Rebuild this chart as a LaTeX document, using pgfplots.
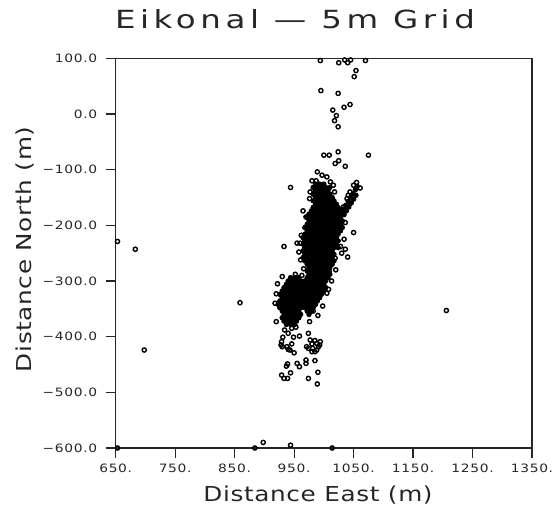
\documentclass[border=0pt]{standalone}
\usepackage{graphicx}
\usepackage{fontspec}
\usepackage{pgfplots}
\pgfplotsset{compat=1.18}
\setmainfont{DejaVu Sans}
\newfontfamily\ticksfont[LetterSpace=5]{DejaVu Sans}
\newfontfamily\labelfont[LetterSpace=2.5]{DejaVu Sans}
\newfontfamily\titlefont[LetterSpace=14]{DejaVu Sans}
\definecolor{ink}{gray}{0.15}

\newcommand{\tl}[1]{\scalebox{1.2}[1]{#1}}

\begin{document}
\begin{tikzpicture}
\useasboundingbox (0,0) rectangle (556pt,508pt);
\begin{axis}[
  at={(115.7pt,60pt)}, anchor=south west,
  scale only axis, width=416.3pt, height=389.7pt,
  xmin=650, xmax=1350, ymin=-600, ymax=100,
  clip=false,
  axis line style={line width=1.2pt, ink},
  tick pos=left, tick align=outside,
  major tick length=10pt,
  every tick/.style={line width=1.2pt, ink},
  minor tick num=0,
  xtick={650,750,...,1350},
  ytick={-600,-500,...,100},
  xticklabels={\tl{650.},\tl{750.},\tl{850.},\tl{950.},\tl{1050.},\tl{1150.},\tl{1250.},\tl{1350.}},
  yticklabels={\tl{−600.0},\tl{−500.0},\tl{−400.0},\tl{−300.0},\tl{−200.0},\tl{−100.0},\tl{0.0},\tl{100.0}},
  /pgf/number format/assume math mode=true,
  tick label style={font=\ticksfont\fontsize{11.5}{13}\selectfont, text=ink},
  xticklabel style={anchor=north, yshift=-2pt},
  yticklabel style={anchor=east, xshift=-5pt},
  title={\scalebox{1.3}[1]{\titlefont\fontsize{25}{30}\selectfont Eikonal — 5m Grid}},
  title style={at={(axis description cs:0.4307,1.0616)}, anchor=base, inner sep=0pt, text=ink},
  xlabel={\scalebox{1.2}[1]{\labelfont\fontsize{20.6}{24}\selectfont Distance East (m)}},
  xlabel style={at={(axis description cs:0.486,-0.1378)}, anchor=base, inner sep=0pt, text=ink},
  ylabel={\scalebox{1.2}[1]{\labelfont\fontsize{20.6}{24}\selectfont Distance North (m)}},
  ylabel style={at={(axis description cs:-0.2018,0.51)}, anchor=base, rotate=0, inner sep=0pt, text=ink},
]
% dense body of the event cloud: overlapping circles merge into solid black
\addplot[only marks, mark=*, mark size=2.3pt, black, mark options={line width=0.8pt, fill=black}] coordinates {
(986,-126)(993,-126)(1000,-126)
(982,-132)(989,-132)(996,-132)(1003,-132)(1010,-132)
(986,-138)(993,-138)(1000,-138)(1007,-138)
(982,-144)(989,-144)(996,-144)(1003,-144)(1010,-144)
(986,-150)(993,-150)(1000,-150)(1007,-150)(1014,-150)
(982,-156)(989,-156)(996,-156)(1003,-156)(1010,-156)(1017,-156)
(986,-162)(993,-162)(1000,-162)(1007,-162)(1014,-162)(1021,-162)
(982,-168)(989,-168)(996,-168)(1003,-168)(1010,-168)(1017,-168)(1024,-168)
(979,-174)(986,-174)(993,-174)(1000,-174)(1007,-174)(1014,-174)(1021,-174)(1028,-174)
(975,-180)(982,-180)(989,-180)(996,-180)(1003,-180)(1010,-180)(1017,-180)(1024,-180)(1031,-180)
(972,-186)(979,-186)(986,-186)(993,-186)(1000,-186)(1007,-186)(1014,-186)(1021,-186)(1028,-186)
(975,-192)(982,-192)(989,-192)(996,-192)(1003,-192)(1010,-192)(1017,-192)(1024,-192)(1031,-192)
(972,-198)(979,-198)(986,-198)(993,-198)(1000,-198)(1007,-198)(1014,-198)(1021,-198)(1028,-198)
(968,-204)(975,-204)(982,-204)(989,-204)(996,-204)(1003,-204)(1010,-204)(1017,-204)(1024,-204)(1031,-204)
(972,-210)(979,-210)(986,-210)(993,-210)(1000,-210)(1007,-210)(1014,-210)(1021,-210)(1028,-210)
(968,-216)(975,-216)(982,-216)(989,-216)(996,-216)(1003,-216)(1010,-216)(1017,-216)(1024,-216)
(965,-222)(972,-222)(979,-222)(986,-222)(993,-222)(1000,-222)(1007,-222)(1014,-222)(1021,-222)
(968,-228)(975,-228)(982,-228)(989,-228)(996,-228)(1003,-228)(1010,-228)(1017,-228)(1024,-228)
(965,-234)(972,-234)(979,-234)(986,-234)(993,-234)(1000,-234)(1007,-234)(1014,-234)(1021,-234)
(968,-240)(975,-240)(982,-240)(989,-240)(996,-240)(1003,-240)(1010,-240)(1017,-240)(1024,-240)
(965,-246)(972,-246)(979,-246)(986,-246)(993,-246)(1000,-246)(1007,-246)(1014,-246)
(968,-252)(975,-252)(982,-252)(989,-252)(996,-252)(1003,-252)(1010,-252)(1017,-252)
(965,-258)(972,-258)(979,-258)(986,-258)(993,-258)(1000,-258)(1007,-258)(1014,-258)
(968,-264)(975,-264)(982,-264)(989,-264)(996,-264)(1003,-264)(1010,-264)(1017,-264)
(972,-270)(979,-270)(986,-270)(993,-270)(1000,-270)(1007,-270)(1014,-270)
(975,-276)(982,-276)(989,-276)(996,-276)(1003,-276)(1010,-276)
(972,-282)(979,-282)(986,-282)(993,-282)(1000,-282)(1007,-282)
(975,-288)(982,-288)(989,-288)(996,-288)(1003,-288)(1010,-288)
(944,-294)(951,-294)(958,-294)(972,-294)(979,-294)(986,-294)(993,-294)(1000,-294)(1007,-294)
(940,-300)(947,-300)(954,-300)(961,-300)(968,-300)(975,-300)(982,-300)(989,-300)(996,-300)(1003,-300)
(937,-306)(944,-306)(951,-306)(958,-306)(965,-306)(972,-306)(979,-306)(986,-306)(993,-306)(1000,-306)
(933,-312)(940,-312)(947,-312)(954,-312)(961,-312)(968,-312)(975,-312)(982,-312)(989,-312)(996,-312)(1003,-312)
(930,-318)(937,-318)(944,-318)(951,-318)(958,-318)(965,-318)(972,-318)(979,-318)(986,-318)(993,-318)(1000,-318)
(926,-324)(933,-324)(940,-324)(947,-324)(954,-324)(961,-324)(968,-324)(975,-324)(982,-324)(989,-324)(996,-324)
(930,-330)(937,-330)(944,-330)(951,-330)(958,-330)(965,-330)(972,-330)(979,-330)(986,-330)(993,-330)
(926,-336)(933,-336)(940,-336)(947,-336)(954,-336)(961,-336)(968,-336)(975,-336)(982,-336)(989,-336)
(923,-342)(930,-342)(937,-342)(944,-342)(951,-342)(958,-342)(965,-342)(972,-342)(979,-342)(986,-342)
(926,-348)(933,-348)(940,-348)(947,-348)(954,-348)(961,-348)(968,-348)(975,-348)(982,-348)
(930,-354)(937,-354)(944,-354)(951,-354)(958,-354)(972,-354)(979,-354)
(933,-360)(940,-360)(947,-360)(954,-360)(961,-360)(975,-360)
(930,-366)(937,-366)(944,-366)(951,-366)(958,-366)
(933,-372)(940,-372)(947,-372)(954,-372)
(937,-378)(944,-378)(951,-378)
(1029,-178)(1033,-171)(1037,-164)(1041,-157)(1045,-150)(1049,-143)(1053,-136)(1056,-130)
(1034,-181)(1038,-174)(1042,-167)(1046,-160)(1050,-153)(1054,-146)
};
% individual events
\addplot[only marks, mark=o, mark size=2.1pt, black, mark options={line width=1.4pt}] coordinates {
(653,-229)(683,-243)(698,-424)(859,-339)(1206,-353)
(653,-600)(884,-600)(898,-590)(944,-595)(1014,-600)
(933,-238)(955,-232)(944,-132)
(994,96)(1025,92)(1035,97)(1040,92)(1045,97)(1070,96)(1054,78)(1051,67)
(995,42)(1024,37)(1034,12)(1044,17)(1015,7)(1021,-3)(1018,-12)(1024,-23)
(1000,-74)(1009,-74)(1024,-68)(1075,-74)(1025,-84)(1019,-89)(1036,-94)
(989,-104)(997,-110)(1005,-113)(987,-120)(1011,-122)(1018,-140)(1016,-128)
(1055,-123)(1061,-133)(1050,-128)(1044,-140)(1041,-146)(1039,-152)(1033,-167)
(1050,-213)(1040,-257)(1036,-243)(1030,-250)(1019,-259)(1009,-283)(1005,-322)
(982,-354)(977,-354)(976,-373)(1036,-195)(1034,-225)(1028,-238)(1020,-280)
(1013,-300)(1008,-315)(998,-345)(990,-362)
(965,-174)(970,-185)(962,-218)(960,-232)(958,-248)(961,-262)(966,-278)
(976,-152)(977,-140)(980,-120)
(920,-323)(920,-373)(918,-340)(922,-305)(930,-292)(952,-288)(963,-290)
(934,-388)(946,-385)(953,-383)(940,-394)(931,-401)(949,-401)(959,-399)
(928,-415)(938,-418)(946,-413)(943,-424)(930,-418)(940,-423)(950,-429)(929,-409)
(974,-394)(977,-406)(985,-407)(994,-409)(991,-418)(981,-421)(974,-421)
(985,-427)(971,-418)(980,-427)(988,-424)(993,-415)(980,-413)(988,-412)
(937,-453)(939,-449)(944,-465)(955,-448)(959,-454)(929,-469)(933,-475)(939,-475)
(970,-448)(970,-442)(985,-443)(974,-475)(990,-464)(989,-485)
};
\end{axis}
\end{tikzpicture}
\end{document}
